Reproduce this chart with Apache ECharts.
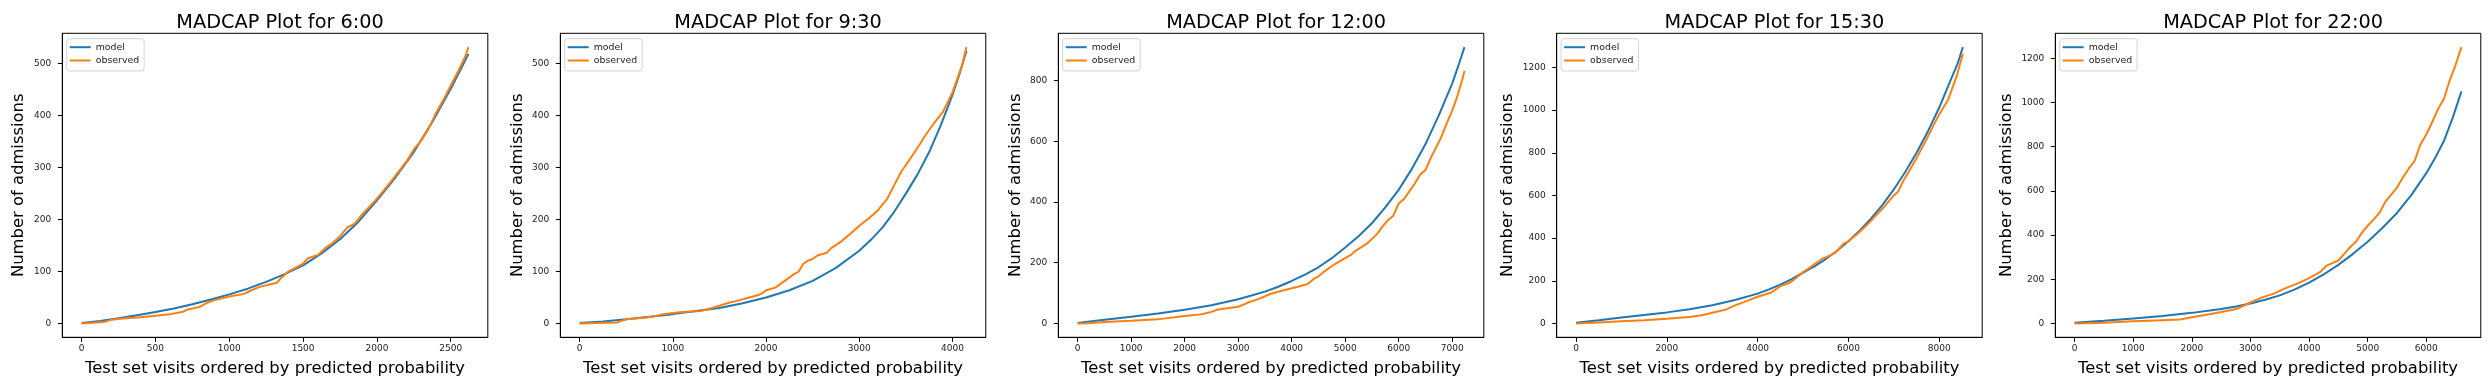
<!DOCTYPE html>
<html>
<head>
<meta charset="utf-8">
<script src="https://cdn.jsdelivr.net/npm/echarts@6/dist/echarts.min.js"></script>
<style>
html,body{margin:0;padding:0;background:#fff;}
#chart{width:2489px;height:390px;}
</style>
</head>
<body>
<div id="chart"></div>
<script>
// ---- data ----
const titles = ['MADCAP Plot for 6:00', 'MADCAP Plot for 9:30', 'MADCAP Plot for 12:00', 'MADCAP Plot for 15:30', 'MADCAP Plot for 22:00'];
const seriesNames = ['model', 'observed'];
const xLabel = 'Test set visits ordered by predicted probability';
const yLabel = 'Number of admissions';

const xTicks1 = [0, 500, 1000, 1500, 2000, 2500];
const xTicks2 = [0, 1000, 2000, 3000, 4000];
const xTicks3 = [0, 1000, 2000, 3000, 4000, 5000, 6000, 7000];
const xTicks4 = [0, 2000, 4000, 6000, 8000];
const xTicks5 = [0, 1000, 2000, 3000, 4000, 5000, 6000];
const yTicks1 = [0, 100, 200, 300, 400, 500];
const yTicks2 = [0, 100, 200, 300, 400, 500];
const yTicks3 = [0, 200, 400, 600, 800];
const yTicks4 = [0, 200, 400, 600, 800, 1000, 1200];
const yTicks5 = [0, 200, 400, 600, 800, 1000, 1200];

const model1 = [[0,1],[125,5],[250,10],[375,16],[500,22],[625,29],[750,37],[875,46],[1000,56],[1125,67],[1250,80],[1375,95],[1500,112],[1625,135],[1750,162],[1875,196],[2000,237],[2125,281],[2250,330],[2375,388],[2500,452],[2560,485],[2620,519]];
const observed1 = [[0,0],[150,3],[200,7],[300,10],[400,12],[500,15],[600,18],[680,22],[720,27],[800,32],[850,40],[900,45],[1000,52],[1100,57],[1150,64],[1200,70],[1300,77],[1320,78],[1350,87],[1400,100],[1500,115],[1530,125],[1600,132],[1650,145],[1700,155],[1750,168],[1800,185],[1850,192],[1900,210],[2000,240],[2100,275],[2200,312],[2250,335],[2300,352],[2350,375],[2400,405],[2450,430],[2500,458],[2550,485],[2600,515],[2620,532]];

const model2 = [[0,1],[250,4],[500,8],[750,13],[1000,18],[1250,24],[1500,30],[1750,39],[2000,50],[2250,64],[2500,82],[2750,107],[3000,140],[3125,161],[3250,185],[3375,215],[3500,250],[3625,287],[3750,330],[3875,382],[4000,440],[4075,480],[4150,525]];
const observed2 = [[0,0],[200,1],[400,2],[450,5],[500,8],[700,11],[800,14],[900,18],[1000,20],[1100,22],[1300,24],[1400,29],[1500,34],[1600,40],[1700,44],[1800,49],[1900,54],[1950,57],[2000,64],[2100,69],[2200,82],[2300,95],[2350,100],[2400,115],[2450,121],[2500,124],[2550,131],[2650,136],[2700,145],[2800,157],[2900,172],[3000,188],[3100,202],[3150,210],[3200,218],[3300,240],[3400,275],[3450,292],[3550,318],[3650,345],[3700,360],[3800,385],[3900,408],[4000,445],[4100,495],[4150,532]];

const model3 = [[0,2],[500,12],[1000,22],[1500,33],[2000,45],[2500,60],[3000,80],[3250,92],[3500,105],[3750,121],[4000,140],[4250,161],[4500,185],[4750,215],[5000,250],[5250,287],[5500,330],[5750,382],[6000,440],[6250,510],[6500,590],[6750,685],[7000,790],[7115,848],[7230,910]];
const observed3 = [[0,0],[200,1],[500,5],[1000,9],[1500,14],[1600,16],[2000,25],[2300,30],[2500,38],[2600,45],[2800,50],[3000,55],[3100,62],[3200,70],[3400,82],[3600,97],[3800,107],[4000,116],[4100,120],[4300,130],[4400,145],[4500,155],[4600,170],[4800,195],[5000,215],[5100,225],[5200,240],[5400,262],[5600,295],[5700,320],[5800,340],[5900,355],[6000,395],[6100,410],[6200,435],[6300,460],[6400,490],[6500,505],[6550,525],[6600,545],[6700,580],[6800,615],[6900,660],[7000,700],[7100,750],[7200,810],[7230,832]];

const model4 = [[0,3],[500,15],[1000,28],[1500,40],[2000,52],[2500,67],[3000,85],[3500,110],[4000,140],[4250,160],[4500,182],[4750,208],[5000,238],[5250,268],[5500,302],[5750,341],[6000,385],[6250,436],[6500,492],[6750,556],[7000,628],[7250,710],[7500,800],[7750,900],[8000,1012],[8250,1140],[8400,1215],[8520,1295]];
const observed4 = [[0,0],[500,5],[1000,10],[1500,15],[2000,22],[2500,30],[2800,40],[3000,50],[3300,65],[3500,85],[3700,100],[4000,125],[4300,145],[4500,175],[4700,190],[4800,205],[5000,240],[5200,270],[5400,300],[5700,330],[5900,375],[6000,385],[6200,420],[6400,460],[6600,505],[6800,550],[7000,600],[7100,620],[7200,665],[7300,700],[7500,775],[7700,855],[7900,940],[8000,980],[8200,1050],[8400,1170],[8520,1265]];

const model5 = [[0,3],[500,12],[1000,22],[1500,34],[2000,48],[2500,66],[2750,77],[3000,90],[3250,107],[3500,127],[3750,153],[4000,185],[4250,222],[4500,265],[4750,315],[5000,370],[5250,432],[5500,500],[5750,583],[6000,680],[6150,748],[6300,825],[6450,930],[6600,1050]];
const observed5 = [[0,0],[500,3],[1000,10],[1500,15],[1800,18],[2000,28],[2300,42],[2500,52],[2700,62],[2800,70],[3000,95],[3200,118],[3400,135],[3600,160],[3800,180],[4000,205],[4200,235],[4300,262],[4500,285],[4600,315],[4700,345],[4800,370],[4900,410],[5000,442],[5100,470],[5200,500],[5300,550],[5500,615],[5600,660],[5700,700],[5800,735],[5900,810],[6000,855],[6100,910],[6200,970],[6300,1015],[6400,1100],[6500,1170],[6600,1250]];

// ---- layout ----
const panels = [
  {model: model1, observed: observed1, xTicks: xTicks1, yTicks: yTicks1, xMin: -131, xMax: 2751, yMin: -26.6, yMax: 558.6, left: 62.3, nameGap: 35.5},
  {model: model2, observed: observed2, xTicks: xTicks2, yTicks: yTicks2, xMin: -207.5, xMax: 4357.5, yMin: -26.6, yMax: 558.6, left: 560.3, nameGap: 35},
  {model: model3, observed: observed3, xTicks: xTicks3, yTicks: yTicks3, xMin: -361.5, xMax: 7591.5, yMin: -45.5, yMax: 955.5, left: 1058.3, nameGap: 35},
  {model: model4, observed: observed4, xTicks: xTicks4, yTicks: yTicks4, xMin: -426, xMax: 8946, yMin: -64.75, yMax: 1359.75, left: 1556.7, nameGap: 41},
  {model: model5, observed: observed5, xTicks: xTicks5, yTicks: yTicks5, xMin: -330, xMax: 6930, yMin: -62.5, yMax: 1312.5, left: 2055.3, nameGap: 41}
];
const GW = 425.5, GT = 33.3, GH = 304;
const FONT = 'DejaVu Sans';
const BLUE = '#1f77b4', ORANGE = '#ff7f0e';
const plain = v => String(v);

const option = {
  backgroundColor: '#ffffff',
  animation: false,
  title: [], grid: [], xAxis: [], yAxis: [], legend: [], series: []
};

panels.forEach((p, i) => {
  option.title.push({
    text: titles[i], left: p.left + GW / 2, top: 8, textAlign: 'center',
    textStyle: {fontFamily: FONT, fontSize: 19.3, fontWeight: 'normal', color: '#000'}
  });
  option.grid.push({
    left: p.left, top: GT, width: GW, height: GH, show: true,
    borderColor: '#000', borderWidth: 1, backgroundColor: '#fff',
    containLabel: false, outerBoundsMode: 'none'
  });
  option.xAxis.push({
    type: 'value', gridIndex: i, min: p.xMin, max: p.xMax,
    name: xLabel, nameLocation: 'middle', nameGap: 23.5,
    nameTextStyle: {fontFamily: FONT, fontSize: 16.4, color: '#000'},
    axisLine: {show: true, onZero: false, lineStyle: {color: '#000', width: 1}},
    axisTick: {show: true, length: 4.5, lineStyle: {color: '#000', width: 1}, customValues: p.xTicks},
    axisLabel: {fontFamily: FONT, fontSize: 9, color: '#222', margin: 7, customValues: p.xTicks, formatter: plain},
    splitLine: {show: false}
  });
  option.yAxis.push({
    type: 'value', gridIndex: i, min: p.yMin, max: p.yMax,
    name: yLabel, nameLocation: 'middle', nameGap: p.nameGap,
    nameTextStyle: {fontFamily: FONT, fontSize: 16.4, color: '#000'},
    axisLine: {show: true, onZero: false, lineStyle: {color: '#000', width: 1}},
    axisTick: {show: true, length: 4.5, lineStyle: {color: '#000', width: 1}, customValues: p.yTicks},
    axisLabel: {fontFamily: FONT, fontSize: 9, color: '#222', margin: 11, customValues: p.yTicks, formatter: plain},
    splitLine: {show: false}
  });
  option.legend.push({
    data: seriesNames.map(n => ({name: n, icon: 'rect'})),
    orient: 'vertical', left: p.left + 4.4, top: 38.7,
    itemWidth: 21, itemHeight: 2, itemGap: 0.3, padding: [2, 5, 4, 3],
    backgroundColor: '#fff', borderColor: '#d3d3d3', borderWidth: 1, borderRadius: 3,
    textStyle: {fontFamily: FONT, fontSize: 9.4, color: '#222', lineHeight: 13},
    selectedMode: false
  });
  option.series.push({
    name: seriesNames[0], type: 'line', xAxisIndex: i, yAxisIndex: i,
    data: p.model, symbol: 'none', showSymbol: false,
    lineStyle: {color: BLUE, width: 2}, itemStyle: {color: BLUE}, z: 2
  });
  option.series.push({
    name: seriesNames[1], type: 'line', xAxisIndex: i, yAxisIndex: i,
    data: p.observed, symbol: 'none', showSymbol: false,
    lineStyle: {color: ORANGE, width: 2}, itemStyle: {color: ORANGE}, z: 3
  });
});

const chart = echarts.init(document.getElementById('chart'), null, {renderer: 'canvas'});
chart.setOption(option);
</script>
</body>
</html>
